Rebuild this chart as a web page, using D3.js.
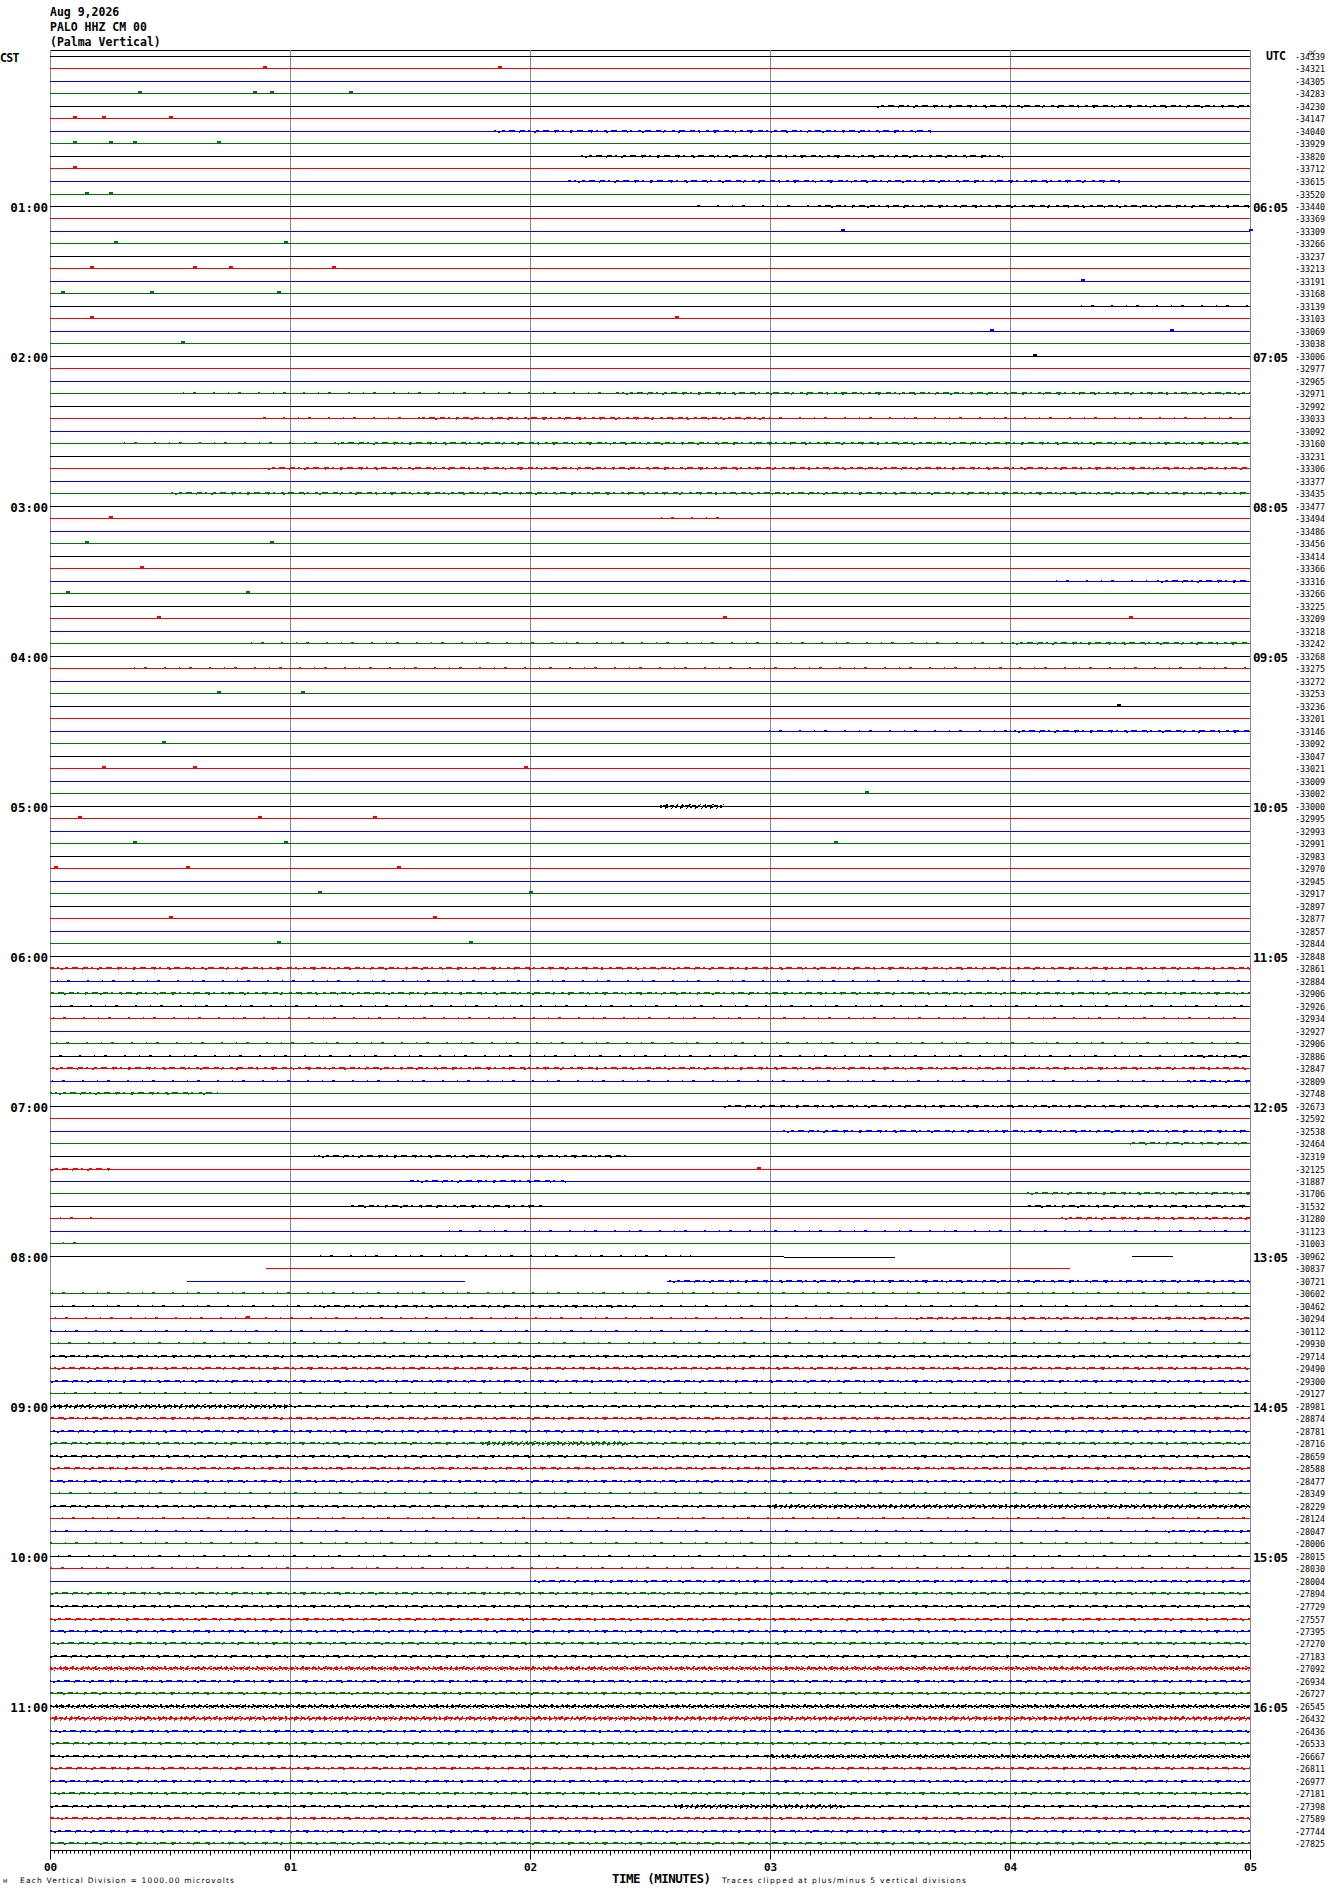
<!DOCTYPE html>
<html><head><meta charset="utf-8">
<script src="https://cdn.jsdelivr.net/npm/d3@7"></script>
<style>body{margin:0;background:#fff}svg{display:block}</style>
</head><body>
<svg id="c" width="1330" height="1894"></svg>
<script>
// ---------------- DATA ----------------
const headerLines = ["Aug 9,2026", "PALO HHZ CM 00", "(Palma Vertical)"];
const cstHourLabels = ["01:00","02:00","03:00","04:00","05:00","06:00","07:00","08:00","09:00","10:00","11:00"];
const utcHourLabels = ["06:05","07:05","08:05","09:05","10:05","11:05","12:05","13:05","14:05","15:05","16:05"];
const minuteTickLabels = ["00","01","02","03","04","05"];
const traceDC = [
-34339,-34321,-34305,-34283,-34230,-34147,-34040,-33929,-33820,-33712,-33615,-33520,
-33440,-33369,-33309,-33266,-33237,-33213,-33191,-33168,-33139,-33103,-33069,-33038,
-33006,-32977,-32965,-32971,-32992,-33033,-33092,-33160,-33231,-33306,-33377,-33435,
-33477,-33494,-33486,-33456,-33414,-33366,-33316,-33266,-33225,-33209,-33218,-33242,
-33268,-33275,-33272,-33253,-33236,-33201,-33146,-33092,-33047,-33021,-33009,-33002,
-33000,-32995,-32993,-32991,-32983,-32970,-32945,-32917,-32897,-32877,-32857,-32844,
-32848,-32861,-32884,-32906,-32926,-32934,-32927,-32906,-32886,-32847,-32809,-32748,
-32673,-32592,-32538,-32464,-32319,-32125,-31887,-31706,-31532,-31280,-31123,-31003,
-30962,-30837,-30721,-30602,-30462,-30294,-30112,-29930,-29714,-29490,-29300,-29127,
-28981,-28874,-28781,-28716,-28659,-28588,-28477,-28349,-28229,-28124,-28047,-28006,
-28015,-28030,-28004,-27894,-27729,-27557,-27395,-27270,-27183,-27092,-26934,-26727,
-26545,-26432,-26436,-26533,-26667,-26811,-26977,-27181,-27398,-27589,-27744,-27825];
const traceColors = ["#000000", "#ff0000", "#0000ff", "#007800"];
// traces with data gaps: [trace, startMin, endMin, offset(divisions)]
const partialTraces = [
  [96, 0, 3.06, 0], [96, 3.06, 3.52, 0.08], [96, 4.51, 4.68, 0],
  [97, 0.9, 4.25, 0],
  [98, 0.57, 1.73, 0], [98, 2.57, 5, 0]
];
// noisy stretches: [trace, startMin, endMin, level 1..3]
const activity = [
 [4,3.44,5,2],[6,1.85,3.67,2],[8,2.2,3.97,2],[10,2.16,4.47,2],[12,2.66,3.2,1],[12,3.2,5,2],
 [20,4.25,5,1],[27,0.5,2.36,1],[27,2.36,5,2],[29,0.85,1.55,1],[29,1.55,3.0,2],[29,3.0,5,1],
 [31,0.3,1.2,1],[31,1.2,5,2],[33,0.9,5,2],[35,0.5,5,2],[37,2.5,2.8,1],[42,4.15,4.6,1],[42,4.6,5,2],
 [47,0.8,4.0,1],[47,4.0,5,2],[49,0.3,5,1],[54,2.95,4.0,1],[54,4.0,5,2],[60,2.54,2.81,3],
 [73,0,5,2],[74,0,5,1],[75,0,5,2],[76,0,5,1],[77,0,5,1],[79,0,5,1],[80,0,4.75,1],[80,4.75,5,2],
 [81,0,5,2],[82,0,4.75,1],[82,4.75,5,2],[83,0,0.7,2],[84,2.8,5,2],[86,3.05,5,2],[87,4.5,5,2],
 [88,1.1,2.4,2],[89,0,0.25,2],[90,1.5,2.15,2],[91,4.07,5,2],[92,1.25,2.05,2],[92,4.07,5,2],
 [93,0,0.2,1],[93,4.2,5,2],[94,1.65,5,1],[95,0,0.15,1],[96,1.1,2.67,1],[98,2.57,5,2],
 [99,0,5,1],[100,0,1.1,1],[100,1.1,2.45,2],[100,2.45,5,1],[101,0,3.6,1],[101,3.6,5,2],
 [102,0,5,1],[103,0,5,1],[104,0,5,2],[105,0,5,2],[106,0,5,2],[107,0,5,1],[108,0,1.0,3],[108,1.0,5,2],
 [109,0,5,2],[110,0,5,2],[111,0,1.8,2],[111,1.8,2.4,3],[111,2.4,5,2],[112,0,5,2],[113,0,5,2],
 [114,0,5,2],[115,0,5,1],[116,0,3.0,2],[116,3.0,5,3],[117,0,5,1],[118,0,4.65,1],[118,4.65,5,2],
 [119,0,5,1],[120,0,5,1],[121,0,5,1],[122,2.0,5,2],[123,0,5,2],[124,0,5,2],[125,0,5,2],
 [126,0,5,2],[127,0,5,2],[128,0,5,2],[129,0,5,3],[130,0,5,2],[131,0,5,2],[132,0,5,3],
 [133,0,5,3],[134,0,5,2],[135,0,5,2],[136,0,3.0,2],[136,3.0,5,3],[137,0,5,2],[138,0,5,2],
 [139,0,5,2],[140,0,2.6,2],[140,2.6,3.3,3],[140,3.3,5,2],[141,0,5,2],[142,0,5,2],[143,0,5,2]
];
// isolated small spikes: [trace, minute]
const blips = [
 [1,0.89],[1,1.87],[3,0.37],[3,0.85],[3,0.92],[3,1.25],[5,0.1],[5,0.22],[5,0.5],
 [7,0.1],[7,0.25],[7,0.35],[7,0.7],[9,0.1],[11,0.15],[11,0.25],[14,3.3],[14,5.0],
 [15,0.27],[15,0.98],[17,0.17],[17,0.6],[17,0.75],[17,1.18],[18,4.3],[19,0.05],[19,0.42],
 [19,0.95],[21,0.17],[21,2.61],[22,3.92],[22,4.67],[23,0.55],[24,4.1],[37,0.25],[39,0.15],
 [39,0.92],[41,0.38],[43,0.07],[43,0.82],[45,0.45],[45,2.81],[45,4.5],[51,0.7],[51,1.05],
 [52,4.45],[55,0.47],[57,0.22],[57,0.6],[57,1.98],[59,3.4],[61,0.12],[61,0.87],[61,1.35],
 [63,0.35],[63,0.98],[63,3.27],[65,0.02],[65,0.57],[65,1.45],[67,1.12],[67,2.0],[69,0.5],
 [69,1.6],[71,0.95],[71,1.75],[89,2.95],[101,0.82]
];

// ---------------- DRAW ----------------
const svg = d3.select("#c");
const x = d3.scaleLinear().domain([0, 5]).range([50, 1250]);
const y = d3.scaleLinear().domain([0, traceDC.length - 1]).range([56.5, 1844]);
const py = i => Math.ceil(y(i) - 1) + 0.5;
const divPx = 12.5;
const axisY = 1850.5;
const mono = "'DejaVu Sans Mono', monospace";

// header
svg.append("g").selectAll("text").data(headerLines).join("text")
  .attr("x", 50).attr("y", (d, i) => 15.7 + i * 15)
  .attr("font-family", mono).attr("font-weight", "bold").attr("font-size", 11.5)
  .text(d => d);

svg.append("text").attr("x", 0).attr("y", 61.7).attr("font-family", mono)
  .attr("font-weight", "bold").attr("font-size", 11.5).attr("textLength", 19.5).text("CST");
svg.append("text").attr("x", 1266).attr("y", 60).attr("font-family", mono)
  .attr("font-weight", "bold").attr("font-size", 11.5).attr("textLength", 20).text("UTC");
svg.append("text").attr("x", 1309).attr("y", 54.5).attr("font-family", mono)
  .attr("font-size", 6).text("DC");

// grid / frame
svg.append("line").attr("x1", 50).attr("x2", 1250.5).attr("y1", 50.5).attr("y2", 50.5)
  .attr("stroke", "#000").attr("shape-rendering", "crispEdges");
svg.append("g").selectAll("line").data(d3.range(0, 6)).join("line")
  .attr("x1", d => Math.round(x(d)) + 0.5).attr("x2", d => Math.round(x(d)) + 0.5)
  .attr("y1", 50).attr("y2", axisY)
  .attr("stroke", "#888").attr("shape-rendering", "crispEdges");

// traces
const segs = [];
traceDC.forEach((v, i) => {
  const parts = partialTraces.filter(p => p[0] === i);
  if (parts.length) parts.forEach(p => segs.push({i, a: p[1], b: p[2], off: p[3]}));
  else segs.push({i, a: 0, b: 5, off: 0});
});
svg.append("g").selectAll("line").data(segs).join("line")
  .attr("x1", d => x(d.a)).attr("x2", d => x(d.b))
  .attr("y1", d => py(d.i) + Math.round(d.off * divPx)).attr("y2", d => py(d.i) + Math.round(d.off * divPx))
  .attr("stroke", d => traceColors[d.i % 4]).attr("stroke-width", 1)
  .attr("shape-rendering", "crispEdges");

// noise texture (styles per activity level)
const dashStyles = {
  1: [{dy: -1, dash: "2 13 1 9 3 17"}],
  2: [{dy: -1, dash: "5 3 2 6 3 4 6 5"}, {dy: 1, dash: "1 14 2 19"}],
  3: [{dy: -1, dash: "4 2 2 3 3 1 5 2"}, {dy: 1, dash: "2 3 3 4 1 2"}, {dy: -2, dash: "1 6 2 9 1 4"}, {dy: 2, dash: "1 8 1 5"}]
};
const noise = [];
activity.forEach(([i, a, b, lvl]) => dashStyles[lvl].forEach((s, k) => noise.push({i, a, b, s, k})));
svg.append("g").selectAll("line").data(noise).join("line")
  .attr("x1", d => x(d.a)).attr("x2", d => x(d.b))
  .attr("y1", d => py(d.i) + d.s.dy).attr("y2", d => py(d.i) + d.s.dy)
  .attr("stroke", d => traceColors[d.i % 4]).attr("stroke-width", 1)
  .attr("stroke-dasharray", d => d.s.dash).attr("stroke-dashoffset", d => (d.i * 7 + d.k * 3) % 17)
  .attr("shape-rendering", "crispEdges");

svg.append("g").selectAll("rect").data(blips).join("rect")
  .attr("x", d => Math.round(x(d[1])) - 1).attr("y", d => py(d[0]) - 2.5)
  .attr("width", 4).attr("height", 2)
  .attr("fill", d => traceColors[d[0] % 4]);

// hour labels
svg.append("g").selectAll("text").data(cstHourLabels).join("text")
  .attr("x", 48).attr("y", (d, k) => py((k + 1) * 12) + 5)
  .attr("text-anchor", "end").attr("font-family", mono).attr("font-weight", "bold")
  .attr("font-size", 12.5).text(d => d);
svg.append("g").selectAll("text").data(utcHourLabels).join("text")
  .attr("x", 1253).attr("y", (d, k) => py((k + 1) * 12) + 5)
  .attr("font-family", mono).attr("font-weight", "bold")
  .attr("font-size", 12.5).attr("textLength", 35).text(d => d);
svg.append("g").selectAll("text").data(traceDC).join("text")
  .attr("x", 1295).attr("y", (d, i) => py(i) + 3)
  .attr("font-family", mono).attr("font-size", 8)
  .attr("textLength", 30).attr("lengthAdjust", "spacingAndGlyphs").text(d => d);

// bottom axis
const ax = svg.append("g").attr("transform", `translate(0,${axisY - 0.5})`);
ax.append("g").call(d3.axisBottom(x).tickValues(d3.range(0, 301).map(s => s / 60)).tickSize(3.5).tickSizeOuter(0).tickFormat(""))
  .call(g => g.select(".domain").remove());
ax.append("g").call(d3.axisBottom(x).tickValues(d3.range(0, 31).map(s => s / 6)).tickSize(5.5).tickSizeOuter(0).tickFormat(""))
  .call(g => g.select(".domain").remove());
const mAx = ax.append("g").call(d3.axisBottom(x).tickValues([0, 1, 2, 3, 4, 5]).tickSize(9.5).tickSizeOuter(0)
  .tickFormat((d, k) => minuteTickLabels[k]));
mAx.selectAll("text").attr("y", 20.5).attr("dy", null)
  .attr("font-family", mono).attr("font-weight", "bold").attr("font-size", 11).attr("fill", "#000");
ax.selectAll("line").attr("stroke", "#000");
ax.selectAll(".domain").attr("stroke", "#000");

// footer
svg.append("text").attr("x", 3).attr("y", 1883).attr("font-family", "'DejaVu Sans', sans-serif")
  .attr("font-size", 5).text("M");
svg.append("text").attr("x", 20).attr("y", 1883).attr("font-family", "'DejaVu Sans', sans-serif")
  .attr("font-size", 7.5).attr("textLength", 214).text("Each Vertical Division = 1000.00 microvolts");
svg.append("text").attr("x", 612).attr("y", 1882.5).attr("font-family", mono).attr("font-weight", "bold")
  .attr("font-size", 12.5).attr("textLength", 99).text("TIME (MINUTES)");
svg.append("text").attr("x", 722).attr("y", 1883).attr("font-family", "'DejaVu Sans', sans-serif")
  .attr("font-size", 7.5).attr("textLength", 244).text("Traces clipped at plus/minus 5 vertical divisions");
</script>
</body></html>
